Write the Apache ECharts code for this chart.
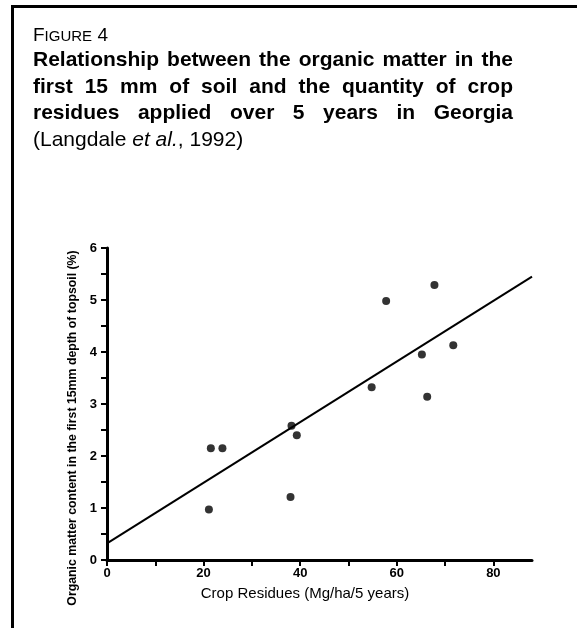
<!DOCTYPE html>
<html>
<head>
<meta charset="utf-8">
<script src="https://cdn.jsdelivr.net/npm/echarts@6/dist/echarts.min.js"></script>
<style>
  html, body { margin: 0; padding: 0; background: #fff; }
  .page { position: relative; width: 577px; height: 628px; overflow: hidden; }
  .frame { position: absolute; left: 11px; top: 5px; width: 600px; height: 700px; border-top: 3px solid #000; border-left: 3px solid #000; }
  .head { position: absolute; left: 33px; top: 24px; width: 480px; font-family: "Liberation Sans", Arial, sans-serif; color: #000; z-index: 2; }
  .fig { font-size: 19px; line-height: 21px; }
  .fig .sc { font-size: 15px; }
  .caption { font-size: 21px; line-height: 26.7px; text-align: justify; }
  .caption b { font-weight: bold; }
  #chart { position: absolute; left: 0; top: 0; width: 577px; height: 628px; }
</style>
</head>
<body>
<div class="page">
  <div class="frame"></div>
  <div class="head">
    <div class="fig">F<span class="sc">IGURE</span> 4</div>
    <div class="caption"><b>Relationship between the organic matter in the first 15 mm of soil and the quantity of crop residues applied over 5 years in Georgia</b> (Langdale <i>et al.</i>, 1992)</div>
  </div>
  <div id="chart"></div>
</div>
<script>
// observed points: crop residues (Mg/ha/5 yr) vs organic matter (%)
const residues = [21.5, 23.9, 21.1, 38.0, 38.2, 39.3, 54.8, 57.8, 65.2, 66.3, 67.8, 71.7];
const organic  = [2.15, 2.15, 0.97, 1.21, 2.58, 2.40, 3.32, 4.98, 3.95, 3.14, 5.29, 4.13];
// fitted line end points
const fitX = [0, 88];
const fitY = [0.32, 5.45];
// ticks and labels
const xTicks = [0, 10, 20, 30, 40, 50, 60, 70, 80];
const xLabels = [0, 20, 40, 60, 80];
const yTicks = [0, 0.5, 1, 1.5, 2, 2.5, 3, 3.5, 4, 4.5, 5, 5.5, 6];
const yLabels = [0, 1, 2, 3, 4, 5, 6];

const chart = echarts.init(document.getElementById('chart'));
const tickFont = { color: '#000', fontFamily: '"Liberation Sans Narrow", "Liberation Sans", Arial', fontWeight: 'bold', fontSize: 13 };

chart.setOption({
  animation: false,
  grid: { left: 107, right: 45, top: 248, bottom: 68, containLabel: false },
  xAxis: {
    type: 'value', min: 0, max: 88,
    axisLine: { show: true, lineStyle: { color: '#000', width: 3 } },
    axisTick: { show: true, customValues: xTicks, length: 6, lineStyle: { color: '#000', width: 2 } },
    axisLabel: { customValues: xLabels, margin: 7, ...tickFont },
    splitLine: { show: false }
  },
  yAxis: {
    type: 'value', min: 0, max: 6,
    axisLine: { show: true, lineStyle: { color: '#000', width: 3 } },
    axisTick: { show: true, customValues: yTicks, length: 6, lineStyle: { color: '#000', width: 2 } },
    axisLabel: { customValues: yLabels, margin: 10, ...tickFont },
    splitLine: { show: false }
  },
  graphic: [
    {
      type: 'text', x: 73, y: 428, rotation: Math.PI / 2,
      style: {
        text: 'Organic matter content in the first 15mm depth of topsoil (%)',
        fill: '#000', font: 'bold 12.3px "Liberation Sans", Arial', align: 'center', verticalAlign: 'middle'
      }
    },
    {
      type: 'text', x: 305, y: 594,
      style: {
        text: 'Crop Residues (Mg/ha/5 years)',
        fill: '#000', font: '15px "Liberation Sans", Arial', align: 'center', verticalAlign: 'middle'
      }
    }
  ],
  series: [
    {
      type: 'line', data: fitX.map((x, i) => [x, fitY[i]]),
      showSymbol: false, lineStyle: { color: '#000', width: 2 }, silent: true
    },
    {
      type: 'scatter', data: residues.map((x, i) => [x, organic[i]]),
      symbolSize: 8, itemStyle: { color: '#000' }
    }
  ]
});
</script>
</body>
</html>
